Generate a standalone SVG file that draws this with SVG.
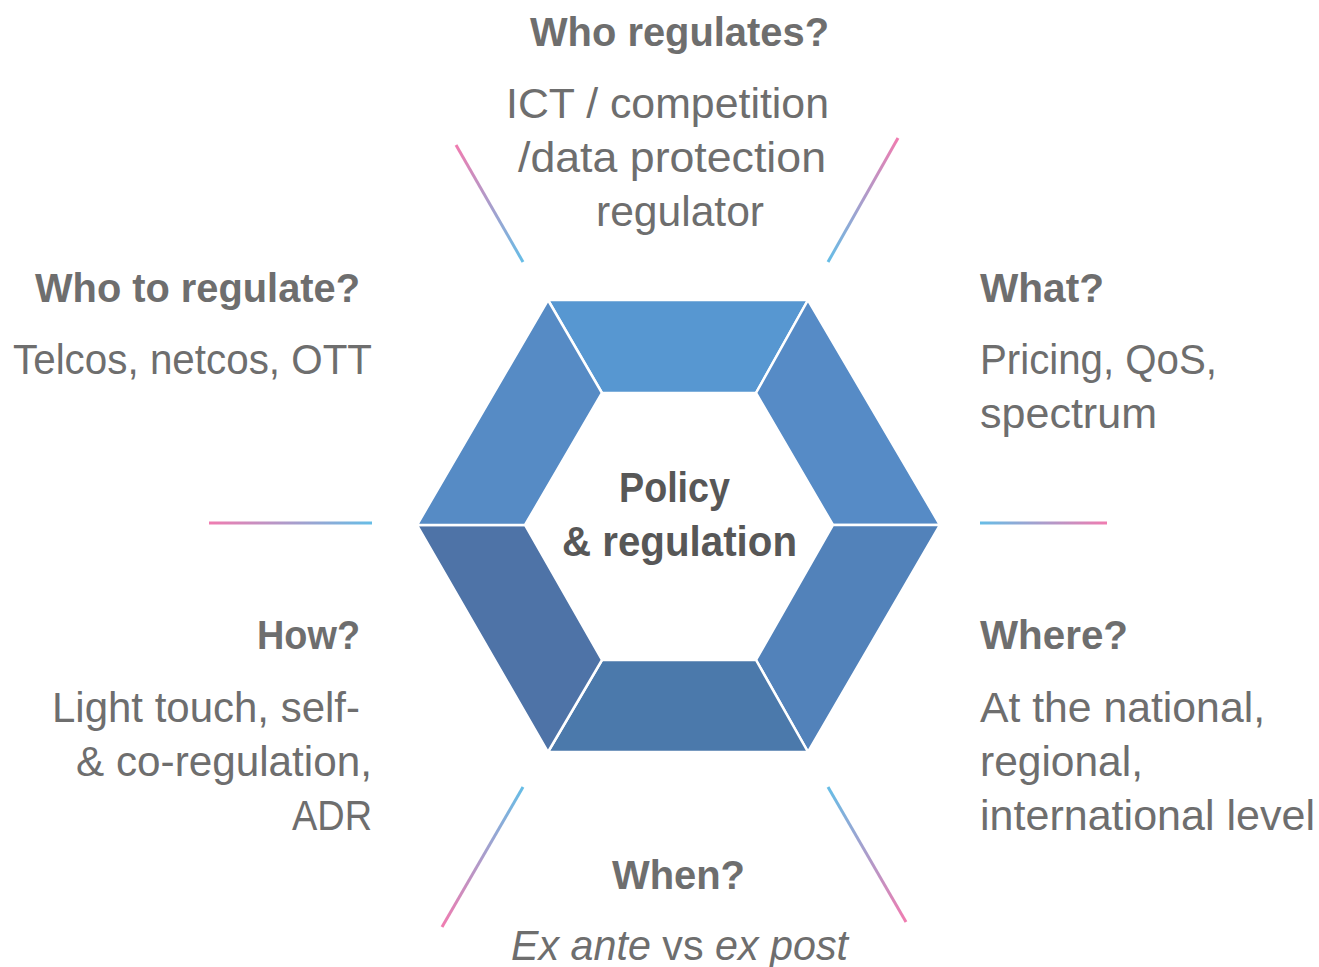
<svg xmlns="http://www.w3.org/2000/svg" width="1319" height="967" viewBox="0 0 1319 967">
<style>
.t{font-family:"Liberation Sans",Arial,sans-serif;fill:#6e6e6e}
.h{font-size:40px;font-weight:bold}
.b{font-size:42px}
.c{font-family:"Liberation Sans",Arial,sans-serif;font-size:42px;font-weight:bold;fill:#575757}
.seg{stroke:#fff;stroke-width:2.5;stroke-linejoin:miter}
.ln{stroke-width:3;fill:none;stroke-linecap:butt}
</style>
<defs>
<linearGradient id="g1" gradientUnits="userSpaceOnUse" x1="456" y1="145" x2="523" y2="262"><stop offset="0" stop-color="#F07CB0"/><stop offset="1" stop-color="#66BDE6"/></linearGradient>
<linearGradient id="g2" gradientUnits="userSpaceOnUse" x1="898" y1="138" x2="828" y2="262"><stop offset="0" stop-color="#F07CB0"/><stop offset="1" stop-color="#66BDE6"/></linearGradient>
<linearGradient id="g3" gradientUnits="userSpaceOnUse" x1="209" y1="523" x2="372" y2="523"><stop offset="0" stop-color="#F07CB0"/><stop offset="1" stop-color="#66BDE6"/></linearGradient>
<linearGradient id="g4" gradientUnits="userSpaceOnUse" x1="1107" y1="523" x2="980" y2="523"><stop offset="0" stop-color="#F07CB0"/><stop offset="1" stop-color="#66BDE6"/></linearGradient>
<linearGradient id="g5" gradientUnits="userSpaceOnUse" x1="442" y1="927" x2="523" y2="787"><stop offset="0" stop-color="#F07CB0"/><stop offset="1" stop-color="#66BDE6"/></linearGradient>
<linearGradient id="g6" gradientUnits="userSpaceOnUse" x1="906" y1="922" x2="828" y2="787"><stop offset="0" stop-color="#F07CB0"/><stop offset="1" stop-color="#66BDE6"/></linearGradient>
</defs>
<rect width="1319" height="967" fill="#fff"/>

<g id="hexagon">
<polygon class="seg" fill="#5797D1" points="548,300 808,300 756,393 602,393"/>
<polygon class="seg" fill="#568BC6" points="808,300 940,525 833,525 756,393"/>
<polygon class="seg" fill="#5282BA" points="940,525 808,752 756,660 833,525"/>
<polygon class="seg" fill="#4B79AB" points="808,752 548,752 602,660 756,660"/>
<polygon class="seg" fill="#4E73A7" points="548,752 417,525 525,525 602,660"/>
<polygon class="seg" fill="#568BC5" points="417,525 548,300 602,393 525,525"/>
</g>

<g id="center">
<text class="c" x="619" y="502" textLength="111" lengthAdjust="spacingAndGlyphs">Policy</text>
<text class="c" x="562" y="556" textLength="235" lengthAdjust="spacingAndGlyphs">&amp; regulation</text>
</g>

<g id="connectors">
<line class="ln" stroke="url(#g1)" x1="456" y1="145" x2="523" y2="262"/>
<line class="ln" stroke="url(#g2)" x1="898" y1="138" x2="828" y2="262"/>
<line class="ln" stroke="url(#g3)" x1="209" y1="523" x2="372" y2="523"/>
<line class="ln" stroke="url(#g4)" x1="980" y1="523" x2="1107" y2="523"/>
<line class="ln" stroke="url(#g5)" x1="523" y1="787" x2="442" y2="927"/>
<line class="ln" stroke="url(#g6)" x1="828" y1="787" x2="906" y2="922"/>
</g>

<g id="who-regulates">
<text class="t h" x="530" y="46" textLength="299" lengthAdjust="spacingAndGlyphs">Who regulates?</text>
<text class="t b" x="506" y="118" textLength="323" lengthAdjust="spacingAndGlyphs">ICT / competition</text>
<text class="t b" x="518" y="172" textLength="308" lengthAdjust="spacingAndGlyphs">/data protection</text>
<text class="t b" x="596" y="226" textLength="168" lengthAdjust="spacingAndGlyphs">regulator</text>
</g>

<g id="who-to-regulate">
<text class="t h" x="35" y="302" textLength="325" lengthAdjust="spacingAndGlyphs">Who to regulate?</text>
<text class="t b" x="13" y="374" textLength="359" lengthAdjust="spacingAndGlyphs">Telcos, netcos, OTT</text>
</g>

<g id="what">
<text class="t h" x="980" y="302" textLength="124" lengthAdjust="spacingAndGlyphs">What?</text>
<text class="t b" x="980" y="374" textLength="237" lengthAdjust="spacingAndGlyphs">Pricing, QoS,</text>
<text class="t b" x="980" y="428" textLength="177" lengthAdjust="spacingAndGlyphs">spectrum</text>
</g>

<g id="how">
<text class="t h" x="257" y="649" textLength="103" lengthAdjust="spacingAndGlyphs">How?</text>
<text class="t b" x="52" y="722" textLength="308" lengthAdjust="spacingAndGlyphs">Light touch, self-</text>
<text class="t b" x="76" y="776" textLength="296" lengthAdjust="spacingAndGlyphs">&amp; co-regulation,</text>
<text class="t b" x="292" y="830" textLength="80" lengthAdjust="spacingAndGlyphs">ADR</text>
</g>

<g id="where">
<text class="t h" x="980" y="649" textLength="148" lengthAdjust="spacingAndGlyphs">Where?</text>
<text class="t b" x="980" y="722" textLength="285" lengthAdjust="spacingAndGlyphs">At the national,</text>
<text class="t b" x="980" y="776" textLength="163" lengthAdjust="spacingAndGlyphs">regional,</text>
<text class="t b" x="980" y="830" textLength="335" lengthAdjust="spacingAndGlyphs">international level</text>
</g>

<g id="when">
<text class="t h" x="612" y="889" textLength="133" lengthAdjust="spacingAndGlyphs">When?</text>
<text class="t b" x="511" y="960" textLength="337" lengthAdjust="spacingAndGlyphs"><tspan font-style="italic">Ex ante</tspan> vs <tspan font-style="italic">ex post</tspan></text>
</g>
</svg>
